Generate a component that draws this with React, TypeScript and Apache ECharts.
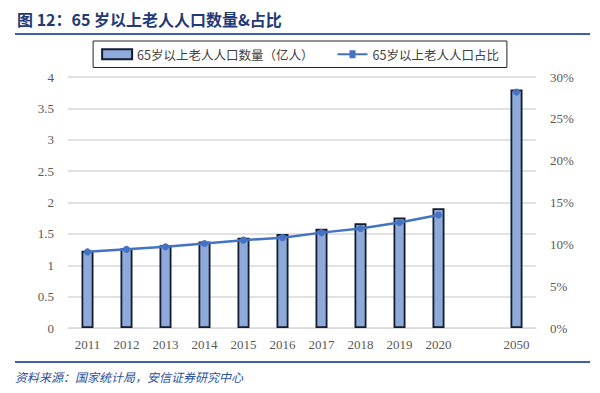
import React, { useEffect, useRef } from "react";
import * as echarts from "echarts";

const categories = ["2011", "2012", "2013", "2014", "2015", "2016", "2017", "2018", "2019", "2020", "", "2050"];
const populationValues: (number | null)[] = [1.23, 1.27, 1.32, 1.38, 1.44, 1.5, 1.58, 1.67, 1.76, 1.91, null, 3.8];
const shareValues: (number | null)[] = [9.1, 9.4, 9.7, 10.1, 10.5, 10.8, 11.4, 11.9, 12.6, 13.5, null, 28.2];
const leftTicks = { min: 0, max: 4, interval: 0.5 };
const rightTicks = { min: 0, max: 30, interval: 5 };
const titleText = "图 12：65 岁以上老人人口数量&占比";
const sourceText = "资料来源：国家统计局，安信证券研究中心";
const barName = "65岁以上老人人口数量（亿人）";
const lineName = "65岁以上老人人口占比";

export default function App() {
  const ref = useRef<HTMLDivElement>(null);
  useEffect(() => {
    if (!ref.current) return;
    const chart = echarts.init(ref.current, null, { renderer: "svg" });
    const axisFont = { fontFamily: "Liberation Serif", fontSize: 13, color: "#595959" };
    chart.setOption({
      animation: false,
      backgroundColor: "#ffffff",
      title: {
        text: titleText,
        left: 12,
        top: 6,
        textStyle: { fontFamily: "Noto Sans CJK SC", fontWeight: "bold", fontSize: 16, color: "#1f3a78" },
      },
      graphic: [
        { type: "line", shape: { x1: 15, y1: 34, x2: 590, y2: 34 }, style: { stroke: "#3f5faa", lineWidth: 2 } },
        { type: "line", shape: { x1: 15, y1: 362, x2: 590, y2: 362 }, style: { stroke: "#3f5faa", lineWidth: 2 } },
        {
          type: "text",
          x: 15,
          y: 370,
          style: {
            text: sourceText,
            fontFamily: "Noto Sans CJK SC",
            fontStyle: "italic",
            fontSize: 12,
            fill: "#2b4f9e",
          },
        },
      ],
      legend: {
        top: 41,
        left: "center",
        padding: [7, 8, 7, 8],
        borderColor: "#222",
        borderWidth: 1,
        itemGap: 24,
        itemWidth: 30,
        itemHeight: 10,
        textStyle: { fontFamily: "Noto Sans CJK SC", fontSize: 12.5, color: "#404040" },
        data: [
          { name: barName, icon: "rect" },
          { name: lineName, icon: "path://M0,4h30v2H0zM12,1h6v8h-6z" },
        ],
      },
      grid: { left: 68, right: 64, top: 77, bottom: 65 },
      xAxis: {
        type: "category",
        data: categories,
        axisTick: { show: false },
        axisLine: { lineStyle: { color: "#d9d9d9" } },
        axisLabel: { ...axisFont, margin: 10, interval: 0 },
      },
      yAxis: [
        {
          type: "value",
          min: leftTicks.min,
          max: leftTicks.max,
          interval: leftTicks.interval,
          axisLabel: { ...axisFont, margin: 14 },
          splitLine: { lineStyle: { color: "#d9d9d9", width: 1.5 } },
          axisLine: { show: false },
        },
        {
          type: "value",
          min: rightTicks.min,
          max: rightTicks.max,
          interval: rightTicks.interval,
          axisLabel: { ...axisFont, margin: 14, formatter: "{value}%" },
          splitLine: { show: false },
          axisLine: { show: false },
        },
      ],
      series: [
        {
          name: barName,
          type: "bar",
          data: populationValues,
          barWidth: 12,
          itemStyle: { color: "#8eaadb", borderColor: "#151c30", borderWidth: 1.8 },
        },
        {
          name: lineName,
          type: "line",
          yAxisIndex: 1,
          data: shareValues,
          connectNulls: false,
          symbol: "circle",
          symbolSize: 7,
          lineStyle: { color: "#4472c4", width: 2.5 },
          itemStyle: { color: "#4472c4" },
        },
      ],
    });
    return () => chart.dispose();
  }, []);
  return <div ref={ref} style={{ position: "fixed", left: 0, top: 0, width: 600, height: 393 }} />;
}
